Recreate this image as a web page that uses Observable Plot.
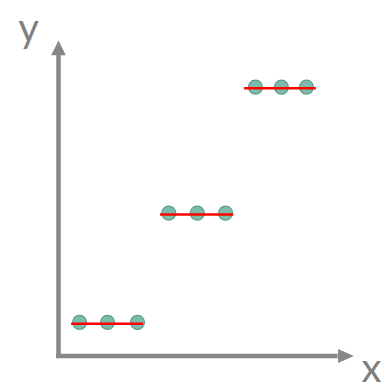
<!DOCTYPE html>
<html>
<head>
<meta charset="utf-8">
<script src="https://cdn.jsdelivr.net/npm/d3@7"></script>
<script src="https://cdn.jsdelivr.net/npm/@observablehq/plot@0.6"></script>
<style>
  html, body { margin: 0; padding: 0; background: #ffffff; }
</style>
</head>
<body>
<div id="chart"></div>
<script>
// Point x positions per group, group levels, and red segment extents (data units)
const groupLevels = [1.02, 4.33, 8.15];
const groupPointsX = [
  [0.74, 1.72, 2.77],
  [3.87, 4.87, 5.86],
  [6.91, 7.82, 8.70]
];
const segmentStart = [0.46, 3.58, 6.53];
const segmentEnd = [2.98, 6.15, 9.05];

// Axis extents (data units)
const xAxisEnd = 9.81, xArrowTip = 10.36, xArrowHalf = 0.21;
const yAxisEnd = 9.11, yArrowTip = 9.56, yArrowHalf = 0.26;
const axisLabels = [
  {text: "x", x: 10.98, y: -0.80},
  {text: "y", x: -1.05, y: 9.53}
];

const points = groupLevels.flatMap((lv, i) => groupPointsX[i].map(x => ({x, y: lv})));
const segments = groupLevels.map((lv, i) => ({x1: segmentStart[i], x2: segmentEnd[i], y: lv}));

const xHead = [
  {x: xAxisEnd, y: -xArrowHalf},
  {x: xArrowTip, y: 0},
  {x: xAxisEnd, y: xArrowHalf}
];
const yHead = [
  {x: -yArrowHalf, y: yAxisEnd},
  {x: 0, y: yArrowTip},
  {x: yArrowHalf, y: yAxisEnd}
];

const axisColor = "#878787";

const chart = Plot.plot({
  width: 385,
  height: 390,
  marginTop: 0, marginRight: 0, marginBottom: 0, marginLeft: 0,
  x: {domain: [0, 10], range: [58, 343], axis: null},
  y: {domain: [0, 10], range: [355.5, 25.5], axis: null},
  style: {background: "#ffffff", overflow: "visible"},
  marks: [
    Plot.ruleX([0], {x: d => d, y1: 0, y2: yAxisEnd, stroke: axisColor, strokeWidth: 4.5}),
    Plot.ruleY([0], {y: d => d, x1: -0.07, x2: xAxisEnd, stroke: axisColor, strokeWidth: 4.5}),
    Plot.line(xHead, {x: "x", y: "y", fill: axisColor, stroke: "none"}),
    Plot.line(yHead, {x: "x", y: "y", fill: axisColor, stroke: "none"}),
    Plot.dot(points, {x: "x", y: "y", r: 7, fill: "#7dbcad", stroke: "#5e9a8c", strokeWidth: 1.2}),
    Plot.ruleY(segments, {x1: "x1", x2: "x2", y: "y", stroke: "#ff0000", strokeWidth: 2.5, dy: 1.3}),
    Plot.text(axisLabels, {x: "x", y: "y", text: "text", lineAnchor: "bottom", textAnchor: "middle",
      fontSize: 40, fontFamily: "Lato", fill: "#7f7f7f"})
  ]
});
document.getElementById("chart").appendChild(chart);
</script>
</body>
</html>
